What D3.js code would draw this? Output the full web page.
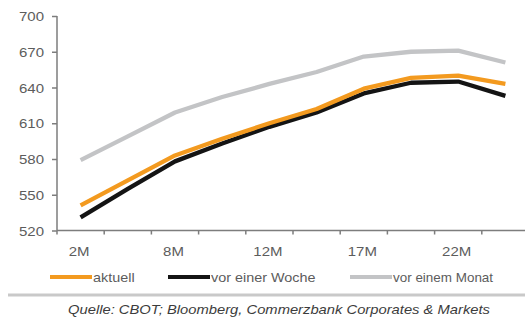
<!DOCTYPE html>
<html>
<head>
<meta charset="utf-8">
<script src="https://cdn.jsdelivr.net/npm/d3@7"></script>
<style>
  html, body { margin: 0; padding: 0; background: #fff; }
  svg { display: block; }
  text { font-family: "Liberation Sans", Arial, sans-serif; }
</style>
</head>
<body>
<svg id="chart" width="525" height="322"></svg>
<script>
// Contract months along the curve (every second one is labelled)
const categories = ["2M", "5M", "8M", "10M", "12M", "15M", "17M", "20M", "22M", "24M"];
const tickLabels = ["2M", "8M", "12M", "17M", "22M"];

// Price curves
const aktuell       = [541, 562, 583, 597, 610, 622, 639, 648, 650, 643];
const vorEinerWoche = [531, 555, 578, 593, 607, 619, 635, 644, 645, 633];
const vorEinemMonat = [579, 599, 619, 632, 643, 653, 666, 670, 671, 661];

const yTicks = [520, 550, 580, 610, 640, 670, 700];

const seriesNames  = ["aktuell", "vor einer Woche", "vor einem Monat"];
const seriesColors = ["#f39a1f", "#141414", "#c3c4c6"];
const seriesValues = [aktuell, vorEinerWoche, vorEinemMonat];

const svg = d3.select("#chart");
const plotLeft = 57, plotTop = 16, plotBottom = 230.5, plotRight = 529;
const axisColor = "#7d7d7d";
const sx = 1.2; // horizontal stretch of the lettering

const x = d3.scaleBand().domain(categories).range([plotLeft, plotRight]).padding(0);
const y = d3.scaleLinear().domain([520, 700]).range([plotBottom, plotTop]);

// Lines: grey first so the newer curves sit on top
const line = d3.line()
  .x((d, i) => x(categories[i]) + x.bandwidth() / 2)
  .y(d => y(d));

[2, 1, 0].forEach(k => {
  svg.append("path")
    .datum(seriesValues[k])
    .attr("fill", "none")
    .attr("stroke", seriesColors[k])
    .attr("stroke-width", 4.3)
    .attr("stroke-linejoin", "round")
    .attr("d", line);
});

// Y axis
const yAxis = svg.append("g").attr("transform", `translate(${plotLeft},0)`)
  .call(d3.axisLeft(y).tickValues(yTicks).tickSize(5).tickFormat(d3.format("d")));
yAxis.select(".domain").attr("stroke", axisColor).attr("stroke-width", 1.5).attr("d", `M0,${plotTop}V${plotBottom}`);
yAxis.selectAll(".tick line").attr("stroke", axisColor).attr("stroke-width", 1.5);
yAxis.selectAll(".tick text")
  .attr("x", null).attr("dy", null)
  .attr("text-anchor", "end")
  .attr("fill", "#5c5c5c")
  .attr("font-size", 12.5)
  .attr("transform", `translate(-13,4.5) scale(${sx},1)`);

// X axis: ticks at the band boundaries, labels at every second band
const xAxisG = svg.append("g").attr("transform", `translate(0,${plotBottom})`);
xAxisG.append("line")
  .attr("x1", plotLeft).attr("x2", 525)
  .attr("stroke", axisColor).attr("stroke-width", 1.5);
xAxisG.selectAll("line.tk")
  .data(categories)
  .join("line")
  .attr("class", "tk")
  .attr("x1", d => x(d)).attr("x2", d => x(d))
  .attr("y1", 0).attr("y2", 4)
  .attr("stroke", axisColor).attr("stroke-width", 1.5);
xAxisG.selectAll("text")
  .data(tickLabels)
  .join("text")
  .attr("text-anchor", "middle")
  .attr("fill", "#5c5c5c")
  .attr("font-size", 12.5)
  .attr("transform", d => `translate(${x(d) + x.bandwidth() / 2 - 1.5},${25}) scale(${sx},1)`)
  .text(d => d);

// Legend
const legendX = [50, 168, 350];
const legend = svg.append("g").attr("transform", "translate(0,277)");
seriesNames.forEach((name, i) => {
  legend.append("line")
    .attr("x1", legendX[i]).attr("x2", legendX[i] + 42)
    .attr("stroke", seriesColors[i]).attr("stroke-width", 4);
  legend.append("text")
    .attr("fill", "#5c5c5c")
    .attr("font-size", 12)
    .attr("transform", `translate(${legendX[i] + 43},4.5) scale(${i === 2 ? 1.12 : sx},1)`)
    .text(name);
});

// Separator and source line
svg.append("line")
  .attr("x1", 8).attr("x2", 525)
  .attr("y1", 295).attr("y2", 295)
  .attr("stroke", "#c9c9c9").attr("stroke-width", 3);

svg.append("text")
  .attr("text-anchor", "middle")
  .attr("fill", "#3c3c3c")
  .attr("font-size", 12.3)
  .attr("font-style", "italic")
  .attr("transform", `translate(279,314) scale(${sx},1)`)
  .text("Quelle: CBOT; Bloomberg, Commerzbank Corporates & Markets");
</script>
</body>
</html>
